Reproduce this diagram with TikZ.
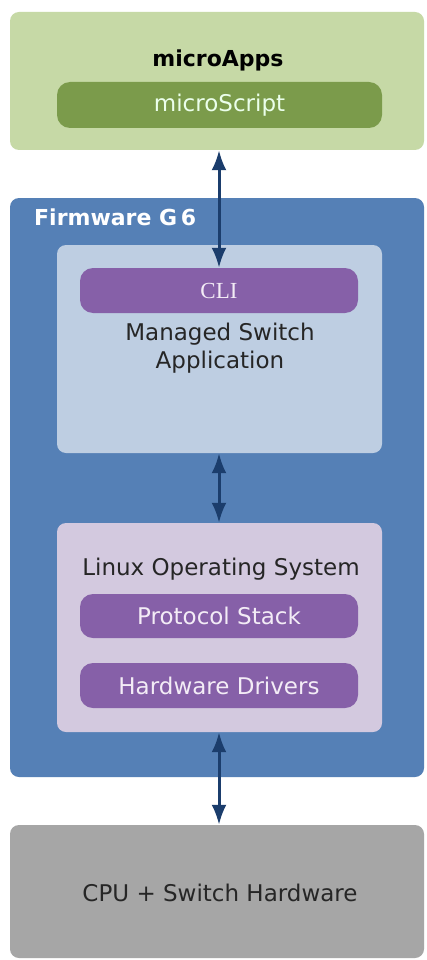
\documentclass[tikz,border=0pt]{standalone}
\usepackage{fontspec}
\setmainfont{DejaVu Sans}
\newfontfamily\serifcli{Liberation Serif}
\usetikzlibrary{arrows.meta}
\definecolor{appsgreen}{HTML}{C6D9A6}
\definecolor{scriptgreen}{HTML}{7B9B4B}
\definecolor{fwblue}{HTML}{5580B6}
\definecolor{appbox}{HTML}{BECEE2}
\definecolor{pillpurple}{HTML}{8660A8}
\definecolor{linuxbox}{HTML}{D3C9DF}
\definecolor{hwgray}{HTML}{A6A6A6}
\definecolor{arrowblue}{HTML}{1B3D6C}
\definecolor{txtdark}{HTML}{262626}
\definecolor{pilltext}{HTML}{F3ECF6}
\begin{document}
\begin{tikzpicture}[x=1pt,y=-1pt,
  bigbox/.style={rectangle, rounded corners=9pt, draw=none, inner sep=0pt},
  pill/.style={rectangle, rounded corners=13pt, draw=none, inner sep=0pt,
    fill=pillpurple, text=pilltext, font=\fontsize{23}{28}\selectfont},
  label/.style={text=txtdark, font=\fontsize{23}{28}\selectfont, align=center, inner sep=0pt},
  link/.style={draw=arrowblue, line width=3pt, {Latex[length=20pt,width=15pt]}-{Latex[length=20pt,width=15pt]}}
]
\useasboundingbox (0,0) rectangle (426,960);
\fill[white] (0,0) rectangle (426,960);
% microApps
\node[bigbox, fill=appsgreen, minimum width=414pt, minimum height=138pt] (apps) at (217,81) {};
\node[label, font=\fontsize{22}{28}\selectfont\bfseries, text=black] (appstitle) at (218,60) {microApps};
\node[pill, fill=scriptgreen, minimum width=325pt, minimum height=46pt, text=white!92!green] (script) at (219.5,105) {microScript};
% Firmware
\node[bigbox, fill=fwblue, minimum width=414pt, minimum height=579pt] (fw) at (217,487.5) {};
\node[anchor=west, inner sep=0pt, text=white, font=\fontsize{22}{28}\selectfont\bfseries] (fwtitle) at (34,217) {Firmware G\,6};
% App box
\node[bigbox, fill=appbox, minimum width=325pt, minimum height=208pt] (app) at (219.5,349) {};
\node[pill, minimum width=278pt, minimum height=45pt, font=\fontsize{23}{28}\serifcli] (cli) at (219,290.5) {CLI};
\node[label] (apptext) at (220,348) {Managed Switch\\Application};
% Linux box
\node[bigbox, fill=linuxbox, minimum width=325pt, minimum height=209pt] (linux) at (219.5,627.5) {};
\node[label] (linuxtext) at (221,569) {Linux Operating System};
\node[pill, minimum width=278pt, minimum height=44pt] (proto) at (219,616) {Protocol Stack};
\node[pill, minimum width=278pt, minimum height=45pt] (drivers) at (219,685.5) {Hardware Drivers};
% CPU
\node[bigbox, fill=hwgray, minimum width=414pt, minimum height=133pt] (cpu) at (217,891.5) {};
\node[label] (cputext) at (220,893) {CPU + Switch Hardware};
% arrows
\draw[link] (cli.north |- apps.south) -- (cli.north);
\draw[link] (cli.north |- app.south) -- (cli.north |- linux.north);
\draw[link] (cli.north |- linux.south) -- (cli.north |- cpu.north);
\end{tikzpicture}
\end{document}
